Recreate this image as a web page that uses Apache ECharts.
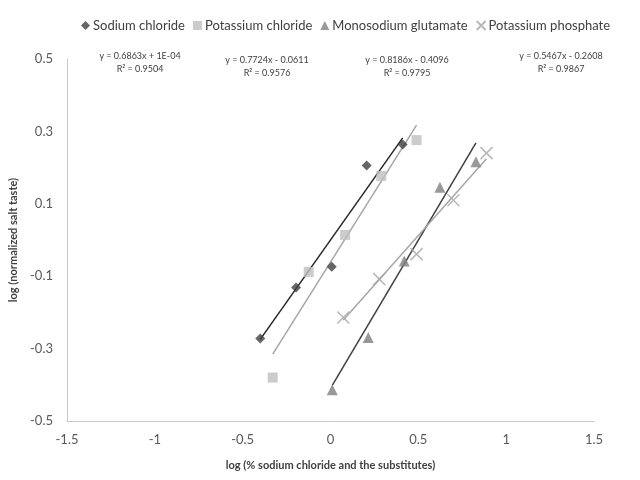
<!DOCTYPE html>
<html>
<head>
<meta charset="utf-8">
<script src="https://cdn.jsdelivr.net/npm/echarts@6/dist/echarts.min.js"></script>
<style>html,body{margin:0;padding:0;background:#fff}#c{width:640px;height:480px}</style>
</head>
<body>
<div id="c"></div>
<script>
const seriesNames = ['Sodium chloride', 'Potassium chloride', 'Monosodium glutamate', 'Potassium phosphate'];
const naclX = [-0.40, -0.196, 0.007, 0.206, 0.411];
const naclY = [-0.272, -0.131, -0.074, 0.206, 0.264];
const kclX = [-0.329, -0.124, 0.083, 0.289, 0.49];
const kclY = [-0.380, -0.088, 0.014, 0.177, 0.276];
const msgX = [0.010, 0.215, 0.42, 0.623, 0.828];
const msgY = [-0.414, -0.269, -0.058, 0.146, 0.216];
const kpX = [0.073, 0.278, 0.49, 0.70, 0.888];
const kpY = [-0.214, -0.108, -0.039, 0.110, 0.240];
const slopes = [0.6863, 0.7724, 0.8186, 0.5467];
const intercepts = [0.0001, -0.0611, -0.4096, -0.2608];
const eqLabels = ['y = 0.6863x + 1E-04', 'y = 0.7724x - 0.0611', 'y = 0.8186x - 0.4096', 'y = 0.5467x - 0.2608'];
const r2Labels = ['R² = 0.9504', 'R² = 0.9576', 'R² = 0.9795', 'R² = 0.9867'];
const xTicks = [-1.5, 1.5, 0.5];
const yTicks = [-0.5, 0.5, 0.2];

const xs = [naclX, kclX, msgX, kpX];
const ys = [naclY, kclY, msgY, kpY];
const markerColors = ['#404040', '#bfbfbf', '#7f7f7f', '#a6a6a6'];
const lineColors = ['#262626', '#a6a6a6', '#404040', '#a6a6a6'];
const symbols = ['diamond', 'rect', 'triangle', 'path://M0,0L10,10M10,0L0,10'];
const symbolSizes = [10, 10, 11, 12];
const eqPos = [[140, 55], [267, 59], [407, 59], [561, 55]];

const series = [];
for (let i = 0; i < 4; i++) {
  const xmin = Math.min(...xs[i]), xmax = Math.max(...xs[i]);
  series.push({
    name: seriesNames[i] + ' trend',
    type: 'line',
    data: [[xmin, slopes[i] * xmin + intercepts[i]], [xmax, slopes[i] * xmax + intercepts[i]]],
    showSymbol: false,
    lineStyle: { color: lineColors[i], width: 1.5 },
    z: 2,
    silent: true
  });
}
for (let i = 0; i < 4; i++) {
  const isX = i === 3;
  series.push({
    name: seriesNames[i],
    type: 'scatter',
    data: xs[i].map((x, j) => [x, ys[i][j]]),
    symbol: symbols[i],
    symbolSize: symbolSizes[i],
    itemStyle: isX ? { color: 'rgba(0,0,0,0)', borderColor: markerColors[i], borderWidth: 1.5 } : { color: markerColors[i] },
    z: 3
  });
}

const chart = echarts.init(document.getElementById('c'));
chart.setOption({
  animation: false,
  backgroundColor: '#fff',
  grid: { left: 67, right: 46, top: 59, bottom: 59 },
  legend: {
    data: seriesNames.map((n, i) => ({ name: n, icon: symbols[i] })),
    left: 76, top: 14,
    itemWidth: 9, itemHeight: 9, itemGap: 8,
    textStyle: { fontFamily: 'Lato', fontSize: 13, color: '#404040', padding: [0, 0, 0, -2] }
  },
  xAxis: {
    type: 'value', min: xTicks[0], max: xTicks[1], interval: xTicks[2],
    name: 'log (% sodium chloride and the substitutes)',
    nameLocation: 'middle', nameGap: 39,
    nameTextStyle: { fontFamily: 'Lato', fontSize: 11, fontWeight: 'bold', color: '#404040' },
    axisLine: { onZero: false, lineStyle: { color: '#c8c8c8', width: 1 } },
    axisTick: { show: false },
    splitLine: { show: false },
    axisLabel: { fontFamily: 'Lato', fontSize: 13, color: '#595959', margin: 12 }
  },
  yAxis: {
    type: 'value', min: yTicks[0], max: yTicks[1], interval: yTicks[2],
    name: 'log (normalized salt taste)',
    nameLocation: 'middle', nameGap: 42,
    nameTextStyle: { fontFamily: 'Lato', fontSize: 11, fontWeight: 'bold', color: '#404040' },
    axisLine: { show: true, onZero: false, lineStyle: { color: '#c8c8c8', width: 1 } },
    axisTick: { show: false },
    splitLine: { show: false },
    axisLabel: { fontFamily: 'Lato', fontSize: 13, color: '#595959', margin: 14 }
  },
  graphic: eqLabels.map((t, i) => ({
    type: 'text', x: eqPos[i][0], y: eqPos[i][1] - 5,
    style: { text: t + '\n' + r2Labels[i], font: '9px Lato', fill: '#404040', align: 'center', verticalAlign: 'top', lineHeight: 13 }
  })),
  series: series
});
</script>
</body>
</html>
